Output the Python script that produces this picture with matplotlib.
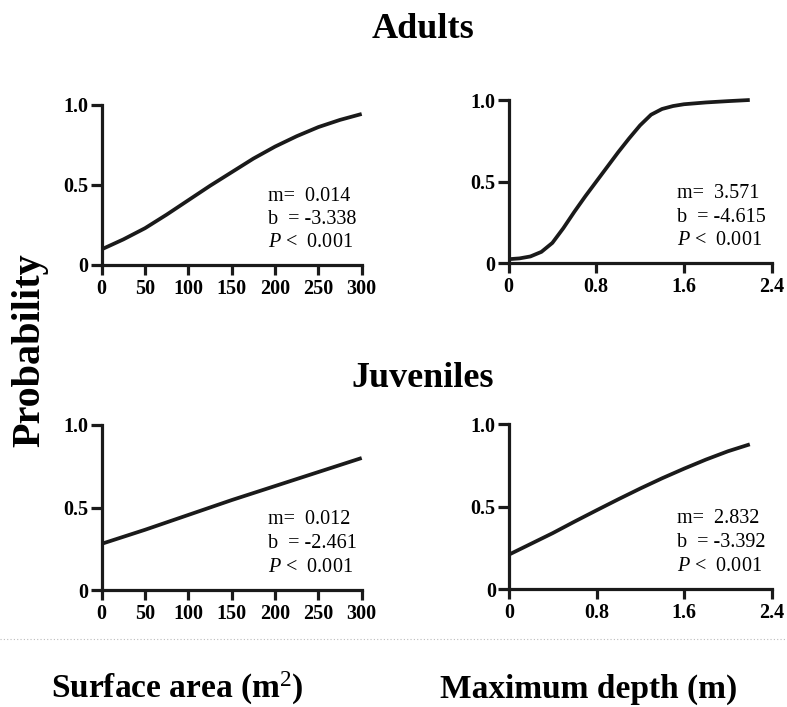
import matplotlib
matplotlib.use("Agg")
import matplotlib.pyplot as plt
from matplotlib.lines import Line2D

plt.rcParams['font.family'] = ['Liberation Serif', 'DejaVu Serif']
plt.rcParams['mathtext.fontset'] = 'custom'
plt.rcParams['mathtext.rm'] = 'Liberation Serif'
plt.rcParams['mathtext.it'] = 'Liberation Serif:italic'

# curves
area_x = [0, 25, 50, 75, 100, 125, 150, 175, 200, 225, 250, 275, 300]
adult_area_y = [0.098, 0.16, 0.23, 0.315, 0.405, 0.495, 0.58, 0.665, 0.74, 0.805, 0.862, 0.907, 0.944]
juv_area_x = [0, 50, 100, 150, 200, 250, 300]
juv_area_y = [0.28, 0.365, 0.455, 0.545, 0.63, 0.715, 0.80]

depth_x = [0, 0.1, 0.2, 0.3, 0.4, 0.5, 0.6, 0.7, 0.8, 0.9, 1.0, 1.1, 1.2, 1.3, 1.4, 1.5, 1.6, 1.8, 2.0, 2.2]
adult_depth_y = [0.025, 0.03, 0.042, 0.07, 0.125, 0.215, 0.315, 0.41, 0.50, 0.59, 0.68, 0.765, 0.845,
                 0.91, 0.945, 0.963, 0.974, 0.985, 0.993, 1.0]
juv_depth_x = [0, 0.2, 0.4, 0.6, 0.8, 1.0, 1.2, 1.4, 1.6, 1.8, 2.0, 2.2]
juv_depth_y = [0.21, 0.275, 0.34, 0.41, 0.478, 0.545, 0.61, 0.672, 0.73, 0.785, 0.835, 0.877]

area_ticks = [0, 50, 100, 150, 200, 250, 300]
depth_ticks = [0, 0.8, 1.6, 2.4]
depth_labels = ['0', '0.8', '1.6', '2.4']

stats = {
    'adult_area': ('0.014', '-3.338'),
    'adult_depth': ('3.571', '-4.615'),
    'juv_area': ('0.012', '-2.461'),
    'juv_depth': ('2.832', '-3.392'),
}

fig = plt.figure(figsize=(7.87, 7.07), dpi=100)

W, H = 787.0, 707.0
def box(x0, x1, y_top, y_bot):
    return [x0 / W, 1 - y_bot / H, (x1 - x0) / W, (y_bot - y_top) / H]

panels = [
    (box(101.7, 361.7, 105, 265), area_x, adult_area_y, 'adult_area', 'area'),
    (box(508.5, 771.7, 100, 263.3), depth_x, adult_depth_y, 'adult_depth', 'depth'),
    (box(101.7, 361.7, 425, 590), juv_area_x, juv_area_y, 'juv_area', 'area'),
    (box(509, 771.7, 424, 589.3), juv_depth_x, juv_depth_y, 'juv_depth', 'depth'),
]

for rect, xs, ys, key, kind in panels:
    ax = fig.add_axes(rect)
    ax.plot(xs, ys, color='#1a1a1a', lw=2.7, clip_on=False, solid_capstyle='butt',
            solid_joinstyle='round')
    ax.set_ylim(0, 1)
    if kind == 'area':
        ax.set_xlim(0, 300)
        ax.set_xticks(area_ticks)
        ax.set_xticklabels([str(t) for t in area_ticks])
    else:
        ax.set_xlim(0, 2.4)
        ax.set_xticks(depth_ticks)
        ax.set_xticklabels(depth_labels)
    ax.set_yticks([0, 0.5, 1.0])
    ax.set_yticklabels(['0', '0.5', '1.0'])
    for s in ['top', 'right']:
        ax.spines[s].set_visible(False)
    for s in ['left', 'bottom']:
        ax.spines[s].set_linewidth(2.3)
        ax.spines[s].set_color('#1a1a1a')
    ax.tick_params(axis='x', length=7, width=2.3, pad=3, labelsize=14.5, color='#1a1a1a')
    ax.tick_params(axis='y', length=8, width=2.3, pad=1.5, labelsize=14.5, color='#1a1a1a')
    for lab in ax.get_xticklabels() + ax.get_yticklabels():
        lab.set_fontweight('bold')
    m, b = stats[key]
    ax.text(0.64, 0.40, 'm=  ' + m, transform=ax.transAxes, fontsize=14.5, va='baseline')
    ax.text(0.64, 0.255, 'b  = ' + b, transform=ax.transAxes, fontsize=14.5, va='baseline')
    ax.text(0.64, 0.11, '$P$ <  0.001', transform=ax.transAxes, fontsize=14.5, va='baseline')

fig.text(423 / W, 1 - 38 / H, 'Adults', ha='center', va='baseline', fontsize=26, fontweight='bold')
fig.text(423 / W, 1 - 387 / H, 'Juveniles', ha='center', va='baseline', fontsize=26, fontweight='bold')
fig.text(30 / W, 1 - 350 / H, 'Probability', ha='center', va='center', rotation=90,
         fontsize=29, fontweight='bold')

fig.add_artist(Line2D([0, 1], [1 - 639 / H, 1 - 639 / H], transform=fig.transFigure,
                      color='#bbbbbb', lw=0.8, ls=(0, (1, 2))))

fig.text(177 / W, 1 - 698 / H, 'Surface area (m$^2$)', ha='center', va='baseline',
         fontsize=24, fontweight='bold')
fig.text(440 / W, 1 - 698 / H, 'Maximum depth (m)', ha='left', va='baseline',
         fontsize=24, fontweight='bold')

fig.savefig('out.png', dpi=100)
